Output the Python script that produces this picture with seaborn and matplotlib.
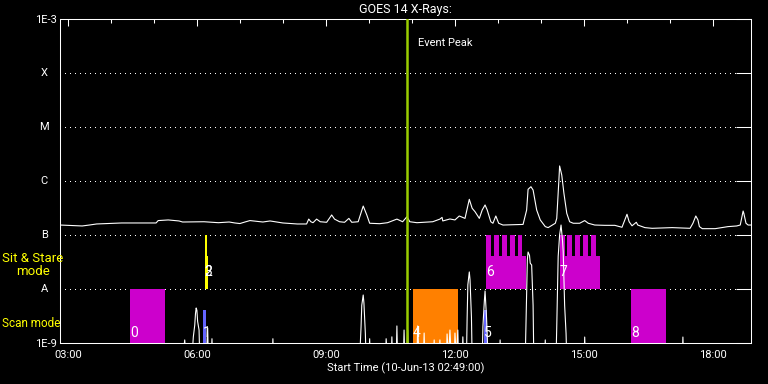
import matplotlib
matplotlib.use("Agg")
import matplotlib.pyplot as plt
import seaborn as sns
from matplotlib.ticker import FixedLocator, MultipleLocator, NullLocator

# GOES 14 long channel (1-8 A), flux in W/m^2
LONG_TIME = [
    "02:49", "03:20", "03:30", "03:40", "04:15", "05:03", "05:06", "05:20", "05:35", "05:40",
    "06:10", "06:30", "06:45", "06:53", "07:00", "07:07", "07:14", "07:32", "07:42", "08:00",
    "08:20", "08:33", "08:36", "08:39", "08:42", "08:47", "08:52", "09:01", "09:08", "09:12",
    "09:19", "09:26", "09:32", "09:36", "09:45", "09:52", "09:57", "10:01", "10:15", "10:26",
    "10:39", "10:47", "10:53", "10:57", "11:07", "11:29", "11:39", "11:42", "11:43", "11:53",
    "12:00", "12:06", "12:14", "12:20", "12:24", "12:28", "12:34", "12:38", "12:42", "12:45",
    "12:50", "12:53", "12:57", "13:01", "13:07", "13:35", "13:40", "13:42", "13:46", "13:49",
    "13:54", "13:59", "14:06", "14:10", "14:20", "14:22", "14:25", "14:26", "14:29", "14:32",
    "14:36", "14:40", "14:45", "14:54", "15:01", "15:06", "15:15", "15:29", "15:43", "15:53",
    "15:56", "16:00", "16:03", "16:07", "16:13", "16:15", "16:25", "16:35", "17:03", "17:28",
    "17:32", "17:36", "17:39", "17:41", "17:45", "18:03", "18:21", "18:33", "18:38", "18:42",
    "18:43", "18:46", "18:49", "18:53",
]
LONG_FLUX = [
    1.53e-7, 1.47e-7, 1.53e-7, 1.60e-7, 1.67e-7, 1.67e-7, 1.85e-7, 1.90e-7, 1.82e-7, 1.74e-7,
    1.76e-7, 1.69e-7, 1.74e-7, 1.67e-7, 1.63e-7, 1.74e-7, 1.85e-7, 1.74e-7, 1.82e-7, 1.67e-7,
    1.60e-7, 1.60e-7, 1.97e-7, 1.76e-7, 1.69e-7, 1.97e-7, 1.76e-7, 1.72e-7, 2.35e-7, 1.97e-7,
    1.76e-7, 1.72e-7, 2.03e-7, 1.72e-7, 1.76e-7, 3.44e-7, 2.35e-7, 1.65e-7, 1.62e-7, 1.69e-7,
    1.97e-7, 1.76e-7, 2.18e-7, 1.76e-7, 1.69e-7, 1.76e-7, 1.97e-7, 2.12e-7, 1.82e-7, 1.98e-7,
    1.90e-7, 2.25e-7, 2.03e-7, 4.58e-7, 3.12e-7, 2.70e-7, 2.03e-7, 2.90e-7, 3.60e-7, 2.90e-7,
    1.76e-7, 1.65e-7, 2.25e-7, 1.65e-7, 1.53e-7, 1.57e-7, 2.90e-7, 7.02e-7, 7.84e-7, 6.81e-7,
    2.90e-7, 1.90e-7, 1.43e-7, 1.37e-7, 1.65e-7, 2.03e-7, 1.04e-6, 1.90e-6, 1.29e-6, 5.92e-7,
    2.52e-7, 1.76e-7, 1.65e-7, 1.65e-7, 1.85e-7, 1.65e-7, 1.53e-7, 1.51e-7, 1.51e-7, 1.39e-7,
    1.76e-7, 2.42e-7, 1.76e-7, 1.48e-7, 1.72e-7, 1.53e-7, 1.37e-7, 1.33e-7, 1.37e-7, 1.33e-7,
    1.65e-7, 2.25e-7, 1.90e-7, 1.43e-7, 1.31e-7, 1.31e-7, 1.43e-7, 1.47e-7, 1.53e-7, 2.78e-7,
    2.52e-7, 1.65e-7, 1.53e-7, 1.53e-7,
]

# short channel (0.5-4 A), mostly below the 1E-9 floor
SHORT_TIME = [
    "02:49", "05:40", "05:43", "05:45", "05:53", "05:55", "05:57", "05:58", "05:59", "06:00",
    "06:01", "06:03", "06:04", "06:13", "06:15", "06:16", "06:20", "06:21", "06:22", "07:45",
    "07:46", "07:47", "09:47", "09:49", "09:50", "09:52", "09:53", "09:55", "09:56", "10:00",
    "10:01", "10:02", "10:23", "10:24", "10:26", "10:31", "10:32", "10:33", "10:38", "10:39",
    "10:40", "10:48", "10:49", "10:50", "10:53", "10:54", "10:55", "11:07", "11:08", "11:10",
    "11:16", "11:17", "11:18", "11:30", "11:31", "11:32", "11:38", "11:39", "11:40", "11:48",
    "11:49", "11:51", "11:53", "11:55", "11:59", "12:00", "12:02", "12:04", "12:05", "12:10",
    "12:11", "12:12", "12:16", "12:17", "12:18", "12:20", "12:21", "12:23", "12:24", "12:38",
    "12:39", "12:41", "12:42", "12:44", "12:45", "12:46", "13:02", "13:03", "13:04", "13:38",
    "13:39", "13:41", "13:42", "13:44", "13:45", "13:47", "13:49", "13:50", "14:05", "14:06",
    "14:07", "14:21", "14:22", "14:24", "14:26", "14:28", "14:30", "14:31", "14:33", "14:35",
    "14:36", "15:00", "15:01", "15:02", "17:17", "17:18", "17:19", "18:53",
]
SHORT_FLUX = [
    5e-10, 5e-10, 1.14e-9, 5e-10, 5e-10, 1.3e-9, 2.15e-9, 3.5e-9, 4.45e-9, 4.0e-9,
    2.5e-9, 1.74e-9, 5e-10, 5e-10, 1.9e-9, 5e-10, 5e-10, 1.2e-9, 5e-10, 5e-10,
    1.2e-9, 5e-10, 5e-10, 2.0e-9, 5.0e-9, 7.74e-9, 5.5e-9, 1.5e-9, 5e-10, 5e-10,
    1.2e-9, 5e-10, 5e-10, 1.2e-9, 5e-10, 5e-10, 1.3e-9, 5e-10, 5e-10, 2.07e-9,
    5e-10, 5e-10, 1.74e-9, 5e-10, 5e-10, 1.74e-9, 5e-10, 5e-10, 2.07e-9, 5e-10,
    5e-10, 1.53e-9, 5e-10, 5e-10, 1.14e-9, 5e-10, 5e-10, 1.14e-9, 5e-10, 5e-10,
    1.47e-9, 5e-10, 1.74e-9, 5e-10, 5e-10, 1.53e-9, 5e-10, 1.74e-9, 5e-10, 5e-10,
    1.3e-9, 5e-10, 5e-10, 3.0e-9, 1.2e-8, 2.07e-8, 1.5e-8, 3.0e-9, 5e-10, 5e-10,
    2.0e-9, 6.0e-9, 9.2e-9, 3.0e-9, 1.5e-9, 5e-10, 5e-10, 1.14e-9, 5e-10, 5e-10,
    2.0e-9, 3.5e-8, 4.84e-8, 4.2e-8, 3.0e-8, 2.78e-8, 5.0e-9, 5e-10, 5e-10, 1.14e-9,
    5e-10, 5e-10, 2.0e-9, 4.0e-8, 1.0e-7, 1.53e-7, 8.0e-8, 5.0e-8, 5.0e-9, 1.5e-9,
    5e-10, 5e-10, 1.29e-9, 5e-10, 5e-10, 1.29e-9, 5e-10, 5e-10,
]

# observations: 0-8
OBS_LABEL = ["0", "1", "2", "3", "4", "5", "6", "7", "8"]
OBS_START = ["04:27", "06:08", "06:11", "06:11", "11:01", "12:40", "12:43", "14:26", "16:06"]
OBS_END = ["05:15", "06:12", "06:14", "06:15", "12:04", "12:45", "13:39", "15:22", "16:54"]
OBS_LOW = [1e-9, 1e-9, 1e-8, 1e-8, 1e-9, 1e-9, 1e-8, 1e-8, 1e-9]
OBS_HIGH = [1e-8, 4.1e-9, 1e-7, 4.1e-8, 1e-8, 4.1e-9, 4.1e-8, 4.1e-8, 1e-8]
OBS_LABEL_FLUX = [1.53e-9, 1.53e-9, 2.07e-8, 2.07e-8, 1.53e-9, 1.53e-9, 2.07e-8, 2.07e-8, 1.53e-9]
OBS_COLOR = ["#cc00cc", "#6464ff", "#ffff00", "#ffff00", "#ff8000", "#6464ff",
             "#cc00cc", "#cc00cc", "#cc00cc"]

# sit & stare sub-exposures on top of 6 and 7
COMB_START = ["12:43", "12:54", "13:05", "13:17", "13:28", "14:26", "14:36", "14:47", "14:59", "15:10"]
COMB_END = ["12:50", "13:01", "13:12", "13:24", "13:33", "14:33", "14:43", "14:54", "15:05", "15:17"]
COMB_LOW = 4.1e-8
COMB_HIGH = 1e-7

EVENT_PEAK = "10:53"
X_START, X_END = "02:49", "18:53"
LEVEL_FLUX = [1e-9, 1e-8, 1e-7, 1e-6, 1e-5, 1e-4, 1e-3]
LEVEL_LABELS = ["1E-9", "A", "B", "C", "M", "X", "1E-3"]
HOUR_TICKS = [3, 6, 9, 12, 15, 18]
HOUR_LABELS = ["03:00", "06:00", "09:00", "12:00", "15:00", "18:00"]


def to_hours(stamps):
    return [int(s[:2]) + int(s[3:]) / 60 for s in stamps]


sns.set_style("dark")
plt.rcParams["font.family"] = ["Roboto", "DejaVu Sans"]
plt.rcParams["text.color"] = "white"

fig = plt.figure(figsize=(7.68, 3.84), dpi=100, facecolor="black")
ax = fig.add_axes([60 / 768, 41 / 384, 691 / 768, 324 / 384])
ax.set_facecolor("black")
ax.set_yscale("log")

# dotted flare-class levels
for flux in LEVEL_FLUX[1:-1]:
    ax.axhline(flux, color="white", lw=0.72, ls=(0, (1, 5)), zorder=0.5, antialiased=False)

# observation boxes
starts = to_hours(OBS_START)
ends = to_hours(OBS_END)
for s, e, lo, hi, c in zip(starts, ends, OBS_LOW, OBS_HIGH, OBS_COLOR):
    ax.bar(s, hi - lo, width=e - s, bottom=lo, align="edge", color=c, linewidth=0, zorder=1)
for s, e in zip(to_hours(COMB_START), to_hours(COMB_END)):
    ax.bar(s, COMB_HIGH - COMB_LOW, width=e - s, bottom=COMB_LOW, align="edge",
           color="#cc00cc", linewidth=0, zorder=1)

sns.lineplot(x=to_hours(LONG_TIME), y=LONG_FLUX, ax=ax, color="white", lw=0.8,
             estimator=None, sort=False, zorder=3)
sns.lineplot(x=to_hours(SHORT_TIME), y=SHORT_FLUX, ax=ax, color="white", lw=0.8,
             estimator=None, sort=False, zorder=3)

for s, lab, fl in zip(starts, OBS_LABEL, OBS_LABEL_FLUX):
    ax.text(s, fl, lab, color="white", fontsize=10, ha="left", va="center", zorder=5)

peak = to_hours([EVENT_PEAK])[0]
ax.axvline(peak, color="#9acd00", lw=1.8, zorder=4)
ax.text(to_hours(["11:08"])[0], 3.6e-4, "Event Peak", color="white", fontsize=8,
        ha="left", va="center")

ax.set_xlim(to_hours([X_START])[0], to_hours([X_END])[0])
ax.set_ylim(LEVEL_FLUX[0], LEVEL_FLUX[-1])

ax.xaxis.set_major_locator(FixedLocator(HOUR_TICKS))
ax.set_xticklabels(HOUR_LABELS)
ax.xaxis.set_minor_locator(MultipleLocator(1))
ax.yaxis.set_major_locator(FixedLocator(LEVEL_FLUX))
ax.yaxis.set_minor_locator(NullLocator())
ax.set_yticklabels([lab if lab.startswith("1E") else "" for lab in LEVEL_LABELS])

ax.tick_params(which="both", direction="in", colors="white", top=True, right=True,
               width=0.75, labelsize=8)
ax.xaxis.set_tick_params(which="major", length=5, pad=5)
ax.xaxis.set_tick_params(which="minor", length=3)
ax.yaxis.set_tick_params(which="major", length=10.8, pad=2)

ytrans = ax.get_yaxis_transform()
for flux, lab in zip(LEVEL_FLUX, LEVEL_LABELS):
    if not lab.startswith("1E"):
        ax.text(-0.023, flux, lab, transform=ytrans, fontsize=8, color="white",
                ha="center", va="center")

ax.text(-0.084, 2.78e-8, "Sit & Stare\nmode", transform=ytrans, fontsize=9.5,
        color="yellow", ha="left", va="center", multialignment="center", linespacing=1.0)
ax.text(-0.084, 2.25e-9, "Scan mode", transform=ytrans, fontsize=8.5,
        color="yellow", ha="left", va="center")

for sp in ax.spines.values():
    sp.set_color("white")
    sp.set_linewidth(0.75)

ax.set_title("GOES 14 X-Rays:", color="white", fontsize=9, pad=4)
ax.set_xlabel("Start Time (10-Jun-13 02:49:00)", color="white", fontsize=8, labelpad=2)

fig.savefig("out.png", dpi=100, facecolor="black")
